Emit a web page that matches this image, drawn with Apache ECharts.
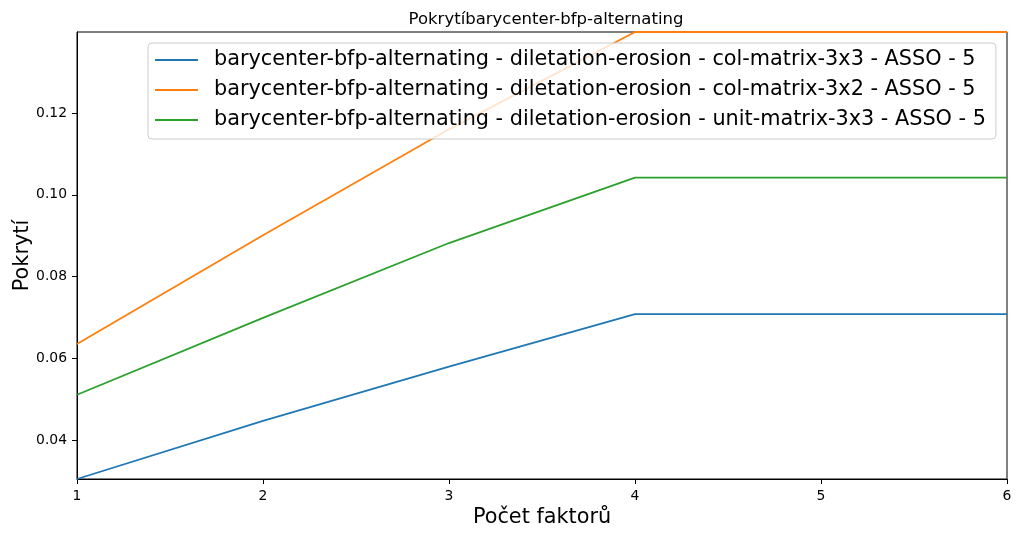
<!DOCTYPE html>
<html>
<head>
<meta charset="utf-8">
<script src="https://cdn.jsdelivr.net/npm/echarts@6/dist/echarts.min.js"></script>
<style>html,body{margin:0;padding:0;background:#fff;}#c{width:1020px;height:538px;}</style>
</head>
<body>
<div id="c"></div>
<script>
const xValues = [1, 2, 3, 4, 5, 6];
const seriesNames = [
  'barycenter-bfp-alternating - diletation-erosion - col-matrix-3x3 - ASSO - 5',
  'barycenter-bfp-alternating - diletation-erosion - col-matrix-3x2 - ASSO - 5',
  'barycenter-bfp-alternating - diletation-erosion - unit-matrix-3x3 - ASSO - 5'
];
const blueValues = [0.0305, 0.0447, 0.0580, 0.0708, 0.0708, 0.0708];
const orangeValues = [0.0635, 0.0901, 0.1160, 0.1398, 0.1398, 0.1398];
const greenValues = [0.0511, 0.0699, 0.0882, 0.1042, 0.1042, 0.1042];
const yTicks = [0.04, 0.06, 0.08, 0.10, 0.12];
const xTicks = [1, 2, 3, 4, 5, 6];
const yMin = 0.0305, yMax = 0.1398;

const colors = ['#1f77b4', '#ff7f0e', '#2ca02c'];
const allValues = [blueValues, orangeValues, greenValues];
const font = 'DejaVu Sans';

const chart = echarts.init(document.getElementById('c'), null, {renderer: 'canvas'});
chart.setOption({
  animation: false,
  textStyle: {fontFamily: font},
  title: {
    text: 'Pokrytíbarycenter-bfp-alternating',
    left: 541, top: 6, textAlign: 'center',
    textStyle: {fontFamily: font, fontSize: 16.5, fontWeight: 'normal', color: '#000'}
  },
  grid: {left: 77, right: 13, top: 32, bottom: 59, show: true, borderColor: '#000', borderWidth: 1,
         backgroundColor: 'transparent', containLabel: false, outerBoundsMode: 'none'},
  legend: {
    orient: 'vertical', left: 148, top: 43,
    icon: 'rect', itemWidth: 43, itemHeight: 2, itemGap: 0,
    padding: [2, 10, 4, 7],
    backgroundColor: 'rgba(255,255,255,0.8)', borderColor: '#cccccc', borderWidth: 1, borderRadius: 4,
    textStyle: {fontFamily: font, fontSize: 20.8, color: '#000', lineHeight: 30, padding: [0, 0, 0, 11]},
    data: seriesNames
  },
  xAxis: {
    type: 'value', min: 1, max: 6, interval: 1,
    name: 'Počet faktorů', nameLocation: 'middle', nameGap: 28, nameMoveOverlap: false,
    nameTextStyle: {fontFamily: font, fontSize: 20.8, color: '#000'},
    axisLine: {show: true, lineStyle: {color: '#000', width: 1}},
    axisTick: {show: true, inside: false, length: 5, lineStyle: {color: '#000'}},
    axisLabel: {fontFamily: font, fontSize: 13.9, color: '#000', margin: 10, formatter: v => String(v)},
    splitLine: {show: false}
  },
  yAxis: {
    type: 'value', min: yMin, max: yMax,
    name: 'Pokrytí', nameLocation: 'middle', nameGap: 44, nameRotate: 90, nameMoveOverlap: false,
    nameTextStyle: {fontFamily: font, fontSize: 20.8, color: '#000'},
    axisLine: {show: true, lineStyle: {color: '#000', width: 1}},
    axisTick: {show: true, length: 5, customValues: yTicks, lineStyle: {color: '#000'}},
    axisLabel: {fontFamily: font, fontSize: 13.9, color: '#000', margin: 10, customValues: yTicks, formatter: v => v.toFixed(2)},
    splitLine: {show: false}
  },
  series: seriesNames.map((n, i) => ({
    name: n, type: 'line', showSymbol: false, symbol: 'none', clip: true,
    color: colors[i],
    lineStyle: {color: colors[i], width: 1.8},
    data: xValues.map((x, j) => [x, allValues[i][j]])
  }))
});
</script>
</body>
</html>
